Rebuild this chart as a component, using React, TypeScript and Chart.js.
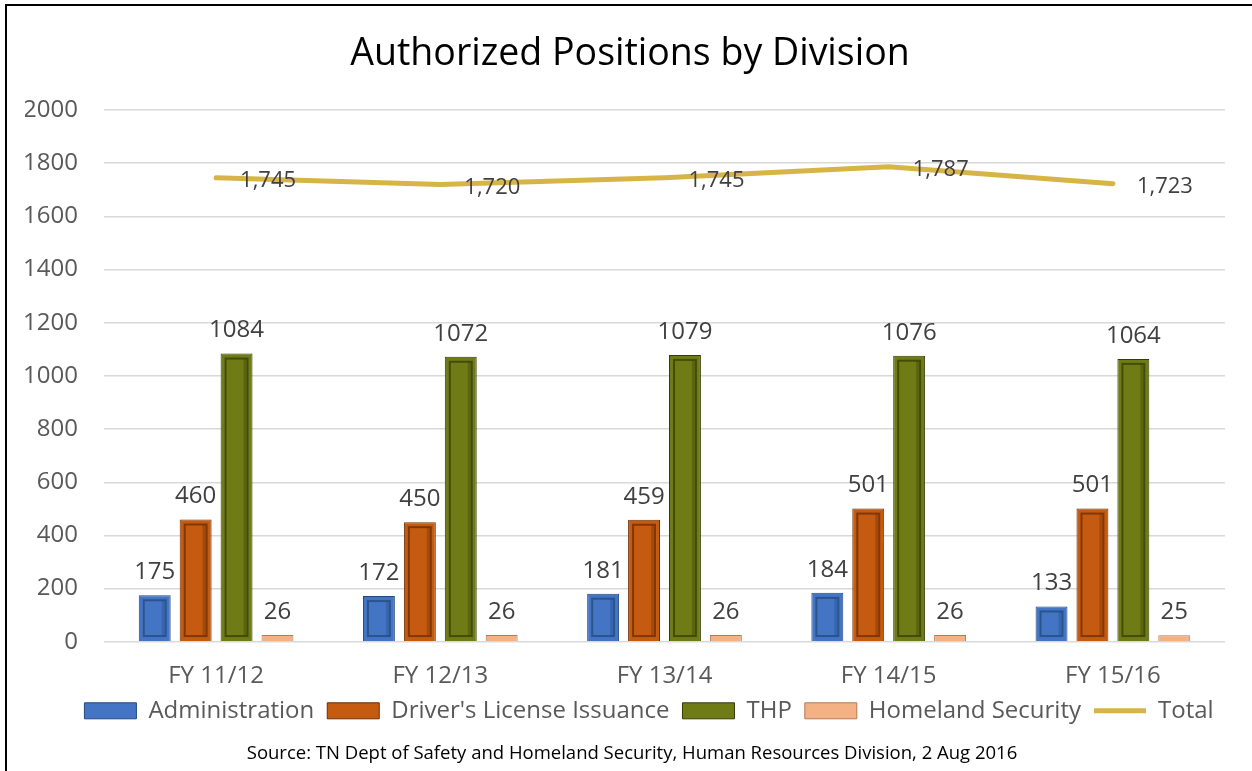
import React, { useEffect, useRef } from "react";
import { Chart, registerables } from "chart.js";

Chart.register(...registerables);

const categories = ["FY 11/12", "FY 12/13", "FY 13/14", "FY 14/15", "FY 15/16"];
const administration = [175, 172, 181, 184, 133];
const driversLicense = [460, 450, 459, 501, 501];
const thp = [1084, 1072, 1079, 1076, 1064];
const homelandSecurity = [26, 26, 26, 26, 25];
const total = [1745, 1720, 1745, 1787, 1723];

const FONT = "'Open Sans', 'Noto Sans', sans-serif";
const SOURCE = "Source: TN Dept of Safety and Homeland Security, Human Resources Division, 2 Aug 2016";

const barColors = [
  { fill: "#4475C4", dark: "#23487F" },
  { fill: "#C55A11", dark: "#6A2E06" },
  { fill: "#6F7C16", dark: "#353C07" },
  { fill: "#F4B183", dark: "#B7785A" },
];

const bevelPlugin = {
  id: "bevel",
  afterDatasetsDraw(chart: any) {
    const ctx = chart.ctx;
    for (let d = 0; d < 4; d++) {
      const meta = chart.getDatasetMeta(d);
      meta.data.forEach((bar: any) => {
        const { x, y, base, width } = bar.getProps(["x", "y", "base", "width"], true);
        const left = x - width / 2;
        const right = x + width / 2;
        const top = Math.min(y, base);
        const bottom = Math.max(y, base);
        const h = bottom - top;
        const inset = Math.min(5, h / 3);
        ctx.save();
        if (h > 8) {
          ctx.strokeStyle = barColors[d].dark;
          ctx.globalAlpha = 0.75;
          ctx.lineWidth = 2;
          ctx.strokeRect(left + inset, top + inset, width - inset * 2, h - inset * 2);
          ctx.globalAlpha = 0.35;
          ctx.lineWidth = 3;
          ctx.beginPath();
          ctx.moveTo(right - inset - 2.5, top + inset);
          ctx.lineTo(right - inset - 2.5, bottom - inset);
          ctx.stroke();
        }
        ctx.restore();
      });
    }
  },
};

const labelsPlugin = {
  id: "valueLabels",
  afterDraw(chart: any) {
    const ctx = chart.ctx;
    ctx.save();
    ctx.font = `24px ${FONT}`;
    ctx.fillStyle = "#404040";
    ctx.textBaseline = "middle";
    for (let d = 0; d < 4; d++) {
      const meta = chart.getDatasetMeta(d);
      const data = chart.data.datasets[d].data as number[];
      ctx.textAlign = "center";
      meta.data.forEach((bar: any, i: number) => {
        ctx.fillText(String(data[i]), bar.x, bar.y - 23);
      });
    }
    ctx.font = `22px ${FONT}`;
    const lineMeta = chart.getDatasetMeta(4);
    ctx.textAlign = "left";
    lineMeta.data.forEach((pt: any, i: number) => {
      ctx.fillText(total[i].toLocaleString("en-US"), pt.x + 24, pt.y + 3);
    });
    ctx.restore();
  },
};

const shiftPlugin = {
  id: "boxShift",
  afterLayout(chart: any) {
    const lg = chart.legend;
    if (lg) {
      lg.left += 24;
      lg.right += 24;
    }
    (chart.boxes || []).forEach((b: any) => {
      const txt = b?.options?.text;
      if (txt === SOURCE) {
        b.left += 7;
        b.right += 7;
      } else if (txt === "Authorized Positions by Division") {
        b.left += 5;
        b.right += 5;
      }
    });
  },
};

export default function App() {
  const ref = useRef<HTMLCanvasElement | null>(null);

  useEffect(() => {
    if (!ref.current) return;
    const mkBar = (label: string, data: number[], idx: number) => ({
      type: "bar" as const,
      label,
      data,
      backgroundColor: barColors[idx].fill,
      borderColor: barColors[idx].dark,
      borderWidth: 1,
      pointStyle: "rect",
      order: 2,
    });
    const chart = new Chart(ref.current, {
      type: "bar",
      data: {
        labels: categories,
        datasets: [
          mkBar("Administration", administration, 0),
          mkBar("Driver's License Issuance", driversLicense, 1),
          mkBar("THP", thp, 2),
          mkBar("Homeland Security", homelandSecurity, 3),
          {
            type: "line" as const,
            label: "Total",
            data: total,
            borderColor: "#D6B546",
            backgroundColor: "#D6B546",
            borderWidth: 5,
            borderCapStyle: "round",
            pointRadius: 0,
            pointStyle: "line",
            tension: 0,
            order: 1,
          } as any,
        ],
      },
      options: {
        animation: false,
        responsive: true,
        maintainAspectRatio: false,
        layout: { padding: { left: 25, right: 27, top: 0, bottom: 6 } },
        datasets: {
          bar: { categoryPercentage: 0.73, barPercentage: 0.78 },
        },
        scales: {
          x: {
            grid: { display: false, drawTicks: false },
            border: { display: false },
            ticks: { font: { family: FONT, size: 24 }, color: "#595959", padding: 20 },
            afterFit(scale: any) {
              scale.height = 44;
            },
          },
          y: {
            min: 0,
            max: 2000,
            grid: { color: "#D9D9D9", lineWidth: 1.5, drawTicks: false },
            border: { display: false },
            ticks: {
              stepSize: 200,
              font: { family: FONT, size: 24 },
              color: "#595959",
              padding: 26,
              callback: (v: any) => String(v),
            },
            afterFit(scale: any) {
              scale.width = 79;
            },
          },
        },
        plugins: {
          title: {
            display: true,
            text: "Authorized Positions by Division",
            font: { family: FONT, size: 37.5, weight: "normal" },
            color: "#000000",
            padding: { top: 32, bottom: 33 },
          },
          subtitle: {
            display: true,
            position: "bottom",
            text: SOURCE,
            font: { family: FONT, size: 18.5, weight: "normal" },
            color: "#000000",
            padding: { top: 10, bottom: 0 },
          },
          legend: {
            position: "bottom",
            labels: {
              usePointStyle: true,
              pointStyleWidth: 52,
              boxHeight: 16,
              font: { family: FONT, size: 24 },
              color: "#595959",
              padding: 13,
              sort: (a: any, b: any) => a.datasetIndex - b.datasetIndex,
            },
          },
          tooltip: { enabled: false },
        },
      },
      plugins: [bevelPlugin, labelsPlugin, shiftPlugin],
    });
    return () => chart.destroy();
  }, []);

  return (
    <div style={{ position: "fixed", left: 0, top: 0, width: 1252, height: 771, background: "#fff", overflow: "hidden" }}>
      <div
        style={{
          position: "absolute",
          left: 5,
          top: 4,
          width: 1300,
          height: 800,
          borderTop: "2px solid #000",
          borderLeft: "2px solid #000",
        }}
      />
      <div style={{ position: "absolute", left: 0, top: 0, width: 1252, height: 771 }}>
        <canvas ref={ref} />
      </div>
    </div>
  );
}
